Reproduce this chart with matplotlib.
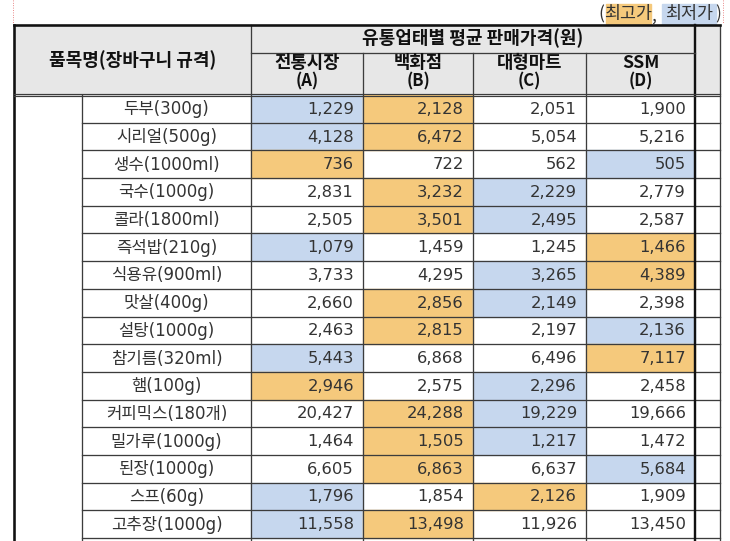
import matplotlib
matplotlib.use("Agg")
import matplotlib.pyplot as plt
from matplotlib.patches import Rectangle
import numpy as np

plt.rcParams['font.family'] = ['Noto Sans CJK KR', 'DejaVu Sans']

items = ["두부(300g)", "시리얼(500g)", "생수(1000ml)", "국수(1000g)", "콜라(1800ml)",
         "즉석밥(210g)", "식용유(900ml)", "맛살(400g)", "설탕(1000g)", "참기름(320ml)",
         "햄(100g)", "커피믹스(180개)", "밀가루(1000g)", "된장(1000g)", "스프(60g)",
         "고추장(1000g)"]
price_a = [1229, 4128, 736, 2831, 2505, 1079, 3733, 2660, 2463, 5443, 2946, 20427, 1464, 6605, 1796, 11558]
price_b = [2128, 6472, 722, 3232, 3501, 1459, 4295, 2856, 2815, 6868, 2575, 24288, 1505, 6863, 1854, 13498]
price_c = [2051, 5054, 562, 2229, 2495, 1245, 3265, 2149, 2197, 6496, 2296, 19229, 1217, 6637, 2126, 11926]
price_d = [1900, 5216, 505, 2779, 2587, 1466, 4389, 2398, 2136, 7117, 2458, 19666, 1472, 5684, 1909, 13450]
col_names = ["전통시장", "백화점", "대형마트", "SSM"]
col_codes = ["(A)", "(B)", "(C)", "(D)"]
group_header = "유통업태별 평균 판매가격(원)"
item_header = "품목명(장바구니 규격)"
legend_hi = "최고가"
legend_lo = "최저가"

HI = "#F5C97C"
LO = "#C6D7EE"
HEAD = "#E7E7E7"
GRID = "#3c3c3c"
TXT = "#333333"
MIX = ['DejaVu Sans', 'Noto Sans CJK KR']

W, H = 730, 541
fig = plt.figure(figsize=(W / 100, H / 100), dpi=100)
ax = fig.add_axes([0, 0, 1, 1])
ax.set_xlim(0, W)
ax.set_ylim(H, 0)
ax.axis("off")

# layout (pixels)
x_left, x_inner, x_item = 14, 82, 251
x_cols = [251, 363, 473, 586, 695]
x_right = 720
y_top, y_mid, y_head = 25, 53, 95
n = len(items)
row_h = (538 - y_head) / n
px = 0.72  # 1 px in points

data = np.array([price_a, price_b, price_c, price_d]).T

# header background
ax.add_patch(Rectangle((x_left, y_top), x_right - x_left, y_head - y_top, color=HEAD, zorder=0))

# cells
for i in range(n):
    row = data[i]
    y0 = y_head + i * row_h
    for j in range(4):
        c = None
        if row[j] == row.max():
            c = HI
        elif row[j] == row.min():
            c = LO
        if c:
            ax.add_patch(Rectangle((x_cols[j], y0), x_cols[j + 1] - x_cols[j], row_h, color=c, zorder=1))
        ax.text(x_cols[j + 1] - 9, y0 + row_h / 2 + 0.5, f"{row[j]:,}", ha="right", va="center",
                fontsize=11.8, family=MIX, color=TXT, zorder=3)
    ax.text((x_inner + x_item) / 2, y0 + row_h / 2 + 0.5, items[i], ha="center", va="center",
            fontsize=12, family=MIX, color=TXT, zorder=3)
    ax.plot([x_inner, x_right], [y0 + row_h, y0 + row_h], color=GRID, lw=1.3 * px, zorder=2)

# header texts
ax.text((x_left + x_item) / 2, 60, item_header, ha="center", va="center",
        fontsize=13, fontweight="bold", color="#111111", zorder=3)
ax.text((x_cols[0] + x_cols[-1]) / 2, 38, group_header, ha="center", va="center",
        fontsize=13, fontweight="bold", color="#111111", zorder=3)
for j in range(4):
    cx = (x_cols[j] + x_cols[j + 1]) / 2
    ax.text(cx, 63, col_names[j], ha="center", va="center",
            fontsize=12.8, fontweight="bold", color="#111111", zorder=3)
    ax.text(cx, 81.5, col_codes[j], ha="center", va="center",
            fontsize=12, fontweight="bold", color="#111111", zorder=3)

# vertical lines
for x in x_cols[1:-1]:
    ax.plot([x, x], [y_mid, 541], color=GRID, lw=1.3 * px, zorder=2)
ax.plot([x_item, x_item], [y_top, 541], color=GRID, lw=1.3 * px, zorder=2)
ax.plot([x_inner, x_inner], [y_head, 541], color=GRID, lw=1.3 * px, zorder=2)
ax.plot([x_right, x_right], [y_top, 541], color=GRID, lw=1.3 * px, zorder=2)
ax.plot([x_cols[-1], x_cols[-1]], [y_top, 541], color="#111111", lw=2.4 * px, zorder=2)
ax.plot([x_left, x_left], [y_top, 541], color="#111111", lw=2.6 * px, zorder=2)
# horizontal header lines
ax.plot([x_cols[0], x_cols[-1]], [y_mid, y_mid], color=GRID, lw=1.3 * px, zorder=2)
ax.plot([x_left, x_right], [y_top, y_top], color="#111111", lw=2.6 * px, zorder=2)
ax.plot([x_left, x_right], [y_head - 1.5, y_head - 1.5], color=GRID, lw=1.2 * px, zorder=2)
ax.plot([x_left, x_right], [y_head + 1, y_head + 1], color=GRID, lw=1.2 * px, zorder=2)

# page-break dotted lines
ax.plot([x_left - 1, x_left - 1], [0, y_top - 2], color="#e05050", lw=0.8 * px, ls=(0, (1, 2)), zorder=2)
ax.plot([723, 723], [0, y_top - 2], color="#e05050", lw=0.8 * px, ls=(0, (1, 2)), zorder=2)

# legend
ax.add_patch(Rectangle((606, 4), 45, 20, color=HI, zorder=1))
ax.add_patch(Rectangle((662, 4), 54, 20, color=LO, zorder=1))
ax.text(601, 14, "(", ha="center", va="center", fontsize=12.5, color=TXT, zorder=3)
ax.text(628.5, 14, legend_hi, ha="center", va="center", fontsize=12.5, color=TXT, zorder=3)
ax.text(654, 16, ",", ha="center", va="center", fontsize=12.5, color=TXT, zorder=3)
ax.text(689, 14, legend_lo, ha="center", va="center", fontsize=12.5, color=TXT, zorder=3)
ax.text(718, 14, ")", ha="center", va="center", fontsize=12.5, color=TXT, zorder=3)

fig.savefig("out.png", dpi=100)
